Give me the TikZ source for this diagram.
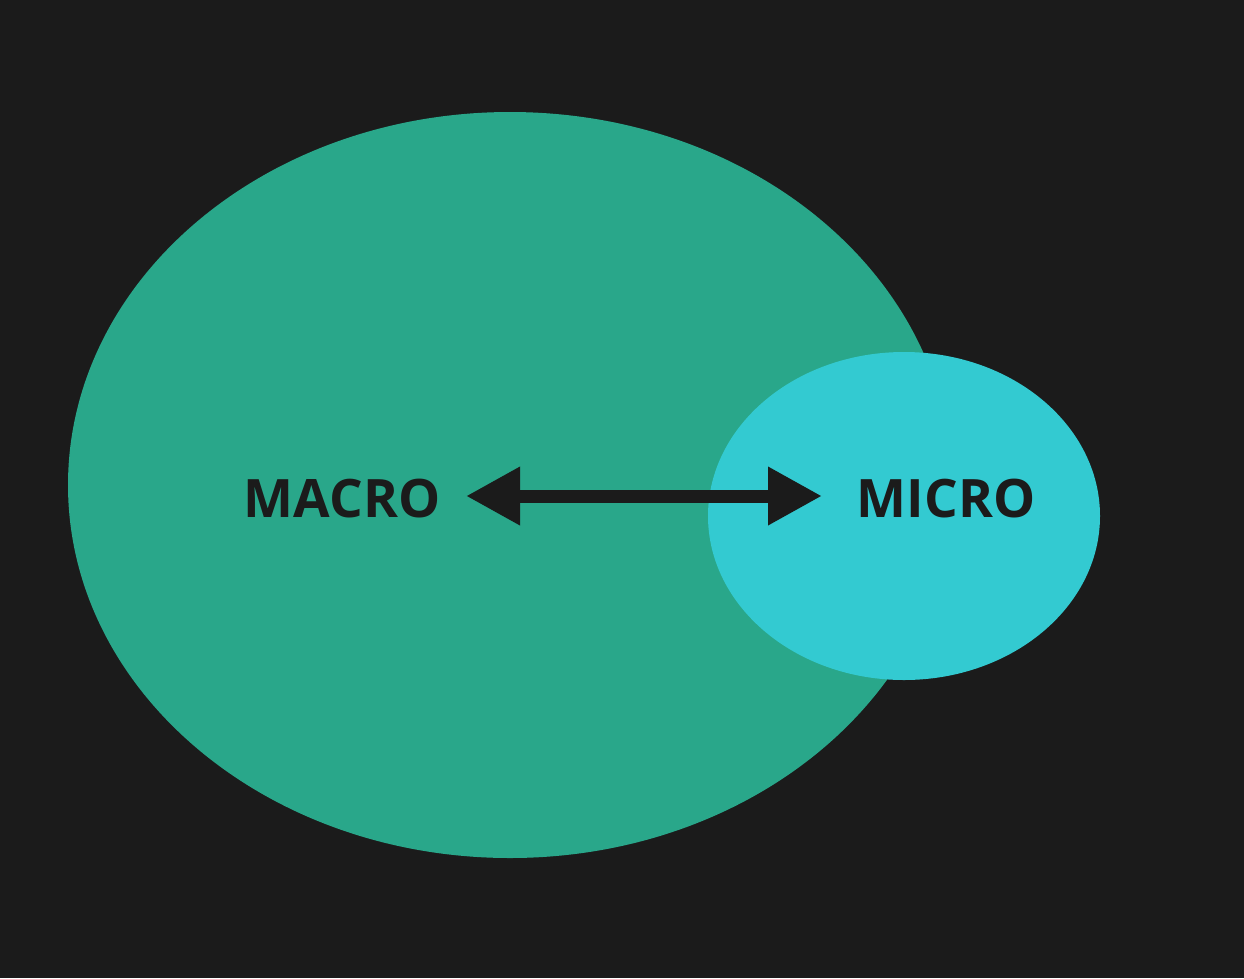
\documentclass[tikz,border=0pt]{standalone}
\usepackage{fontspec}
\setmainfont{Open Sans}
\usetikzlibrary{arrows.meta}
\definecolor{bg}{HTML}{1B1B1B}
\definecolor{macrocol}{HTML}{29A78A}
\definecolor{microcol}{HTML}{33CAD1}
\tikzset{
  lbl/.style={font=\fontsize{53}{53}\selectfont\bfseries, text=bg, inner sep=0pt, anchor=base},
  dblarrow/.style={draw=bg, line width=13pt, {Triangle[length=54pt,width=55pt]}-{Triangle[length=54pt,width=55pt]}}
}
\begin{document}
\begin{tikzpicture}[x=1pt,y=-1pt]
\fill[bg] (0,0) rectangle (1244,978);
\useasboundingbox (0,0) rectangle (1244,978);
\fill[macrocol] (510,485) ellipse [x radius=442, y radius=373];
\fill[microcol] (904,516) ellipse [x radius=196, y radius=164];
\node[lbl] (macro) at (342,517) {MACRO};
\node[lbl] (micro) at (946,517) {MICRO};
\coordinate (la) at (466,496);
\coordinate (ra) at (822,496);
\draw[dblarrow] (la) -- (ra);
\end{tikzpicture}
\end{document}
